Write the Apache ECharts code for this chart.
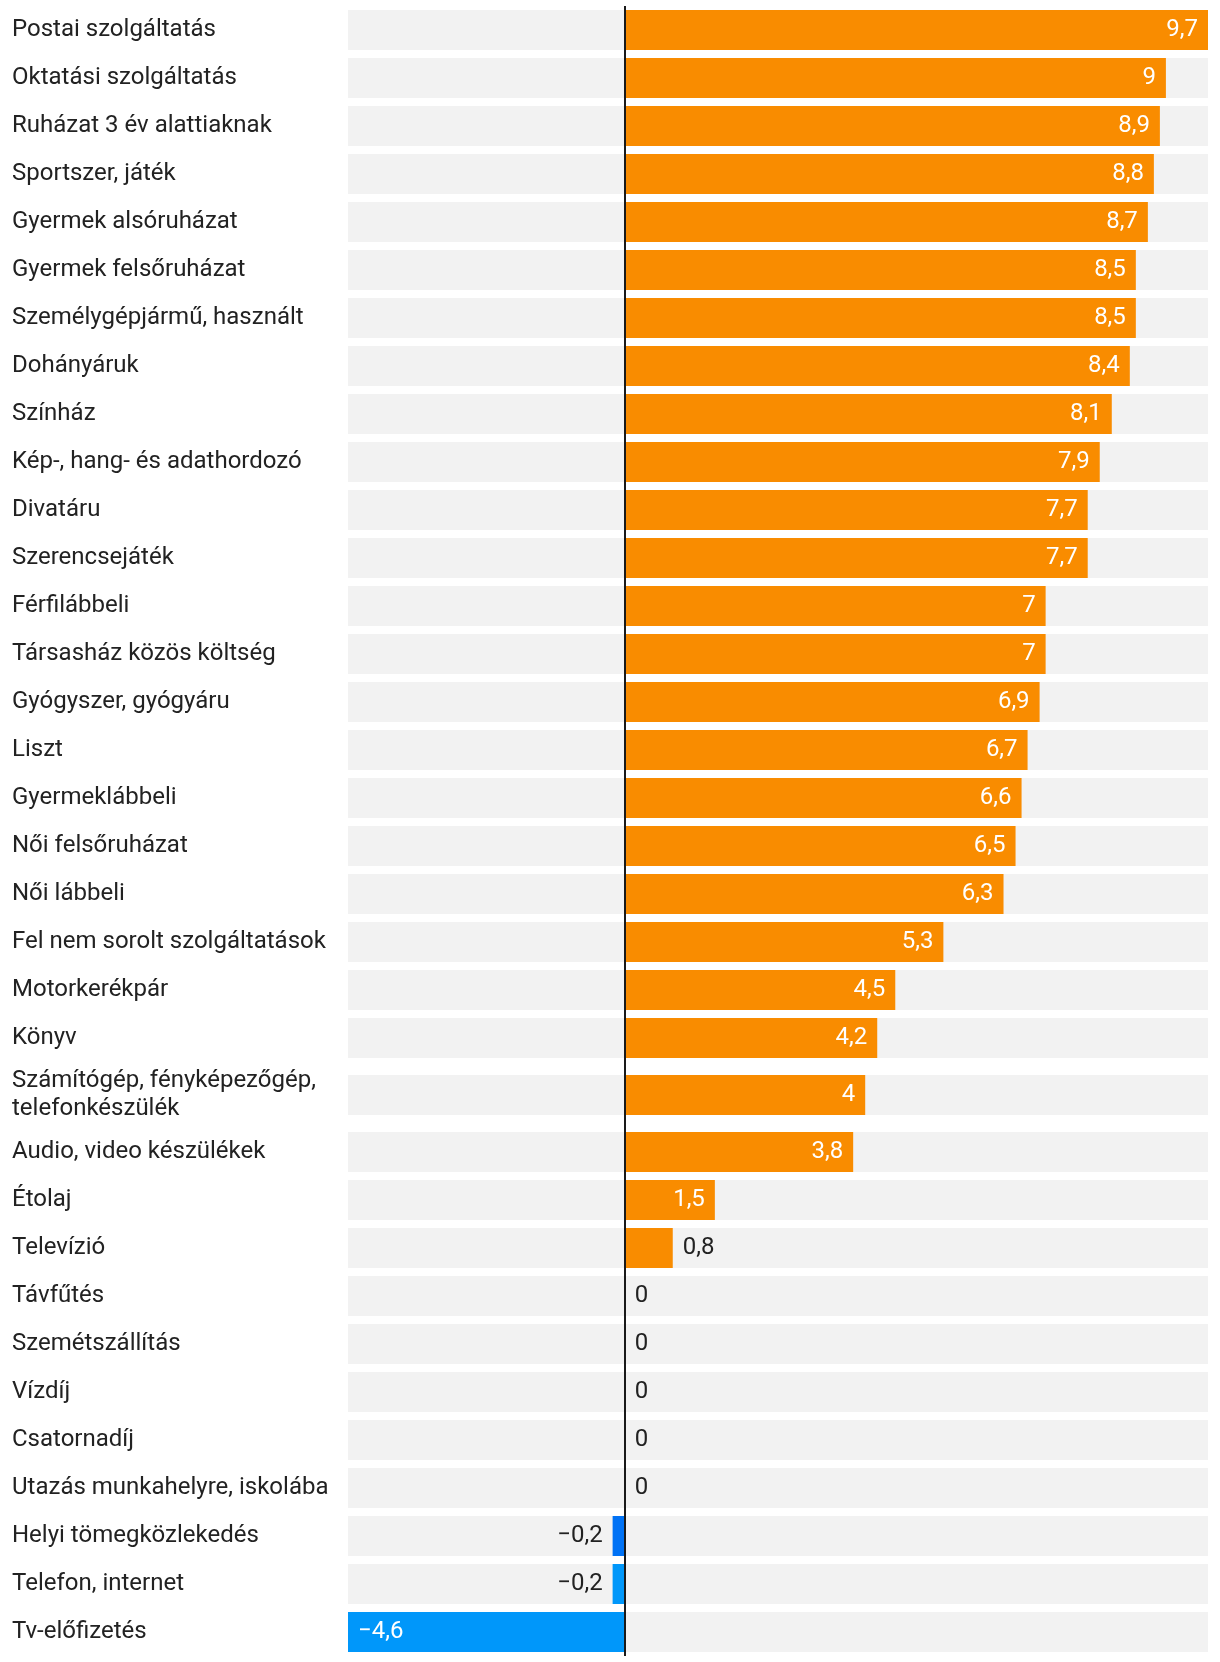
<!DOCTYPE html>
<html>
<head>
<meta charset="utf-8">
<script src="https://cdn.jsdelivr.net/npm/echarts@6/dist/echarts.min.js"></script>
<style>
html,body{margin:0;padding:0;background:#fff;}
#chart{width:1220px;height:1662px;}
</style>
</head>
<body>
<div id="chart"></div>
<script>
const categories = [
  'Postai szolgáltatás',
  'Oktatási szolgáltatás',
  'Ruházat 3 év alattiaknak',
  'Sportszer, játék',
  'Gyermek alsóruházat',
  'Gyermek felsőruházat',
  'Személygépjármű, használt',
  'Dohányáruk',
  'Színház',
  'Kép-, hang- és adathordozó',
  'Divatáru',
  'Szerencsejáték',
  'Férfilábbeli',
  'Társasház közös költség',
  'Gyógyszer, gyógyáru',
  'Liszt',
  'Gyermeklábbeli',
  'Női felsőruházat',
  'Női lábbeli',
  'Fel nem sorolt szolgáltatások',
  'Motorkerékpár',
  'Könyv',
  'Számítógép, fényképezőgép,\ntelefonkészülék',
  'Audio, video készülékek',
  'Étolaj',
  'Televízió',
  'Távfűtés',
  'Szemétszállítás',
  'Vízdíj',
  'Csatornadíj',
  'Utazás munkahelyre, iskolába',
  'Helyi tömegközlekedés',
  'Telefon, internet',
  'Tv-előfizetés'
];
const values = [
  9.7, 9, 8.9, 8.8, 8.7, 8.5, 8.5, 8.4, 8.1, 7.9,
  7.7, 7.7, 7, 7, 6.9, 6.7, 6.6, 6.5, 6.3, 5.3,
  4.5, 4.2, 4, 3.8, 1.5, 0.8, 0, 0, 0, 0,
  0, -0.2, -0.2, -4.6
];
const axisMin = -4.6;
const axisMax = 9.7;

// styling
const ORANGE = '#F98C00';
const BLUE = '#0097FA';
const BLUE_DARK = '#0072F5';
const darkBlueCats = ['Helyi tömegközlekedés'];
const TEXT = '#222222';
const FONT = 'Roboto';

function fmt(v){
  const s = String(Math.abs(v)).replace('.', ',');
  return v < 0 ? '\u2212' + s : s;
}
function item(v, name){
  let color = v >= 0 ? ORANGE : (darkBlueCats.indexOf(name) >= 0 ? BLUE_DARK : BLUE);
  let pos, col;
  if (v >= 1) { pos = 'insideRight'; col = '#fff'; }
  else if (v >= 0) { pos = 'right'; col = TEXT; }
  else if (v > -1) { pos = 'left'; col = TEXT; }
  else { pos = 'insideLeft'; col = '#fff'; }
  return {
    value: v,
    itemStyle: { color: color },
    label: { position: pos, color: col }
  };
}

// split rows into three groups: the two-line label row gets extra room
const groups = [[0, 22], [22, 23], [23, 34]];
const tops = [6, 1062, 1128];
const heights = [22 * 48, 66, 11 * 48];

const grids = [], xAxes = [], yAxes = [], series = [];
groups.forEach((g, i) => {
  const cats = categories.slice(g[0], g[1]);
  const vals = values.slice(g[0], g[1]);
  grids.push({ left: 348, right: 12, top: tops[i], height: heights[i] });
  xAxes.push({
    type: 'value', gridIndex: i, min: axisMin, max: axisMax, show: false
  });
  yAxes.push({
    type: 'category', gridIndex: i, data: cats, inverse: true,
    axisLine: { show: false }, axisTick: { show: false }, splitLine: { show: false },
    axisLabel: {
      align: 'left', margin: 336, fontSize: 24, color: TEXT,
      fontFamily: FONT, lineHeight: 28, padding: [8, 0, 0, 0]
    }
  });
  series.push({
    type: 'bar', xAxisIndex: i, yAxisIndex: i,
    barWidth: 40,
    showBackground: true,
    backgroundStyle: { color: '#F2F2F2' },
    data: vals.map((v, k) => item(v, cats[k])),
    label: {
      show: true, distance: 10, fontSize: 24, fontFamily: FONT,
      padding: [8, 0, 0, 0],
      formatter: p => fmt(p.value)
    },
    markLine: {
      silent: true, symbol: 'none', animation: false,
      label: { show: false },
      lineStyle: { color: '#1a1a1a', width: 2, type: 'solid' },
      data: [{ xAxis: 0 }]
    },
    animation: false
  });
});

const chart = echarts.init(document.getElementById('chart'), null, { renderer: 'canvas' });
chart.setOption({
  animation: false,
  grid: grids,
  xAxis: xAxes,
  yAxis: yAxes,
  series: series
});
</script>
</body>
</html>
